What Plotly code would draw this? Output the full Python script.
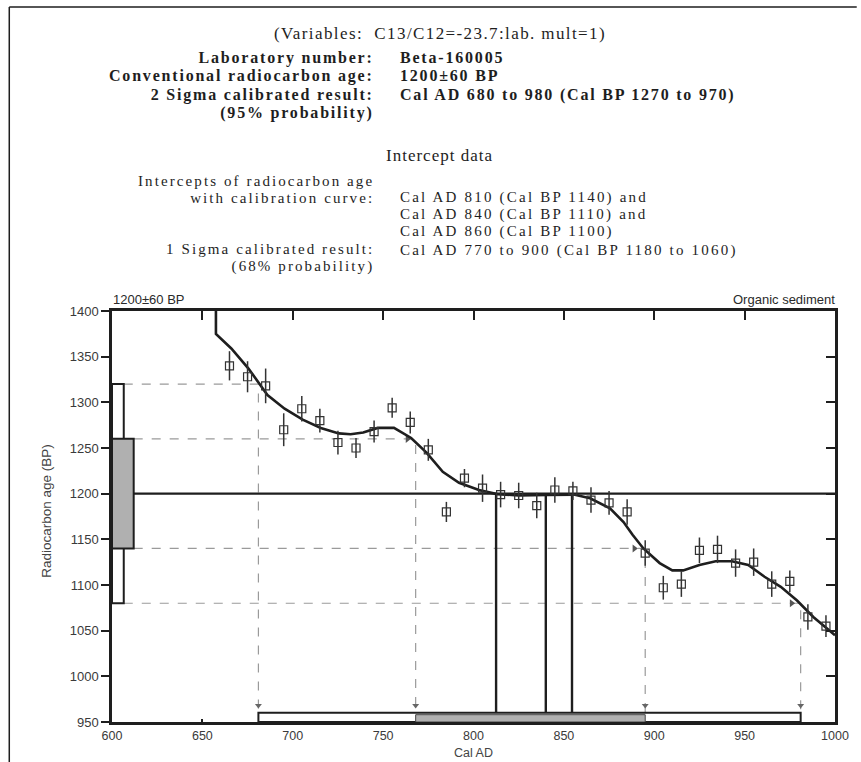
import plotly.graph_objects as go

# ---------------- data ----------------
point_x = [665, 675, 685, 695, 705, 715, 725, 735, 745, 755, 765, 775, 785, 795, 805, 815, 825,
           835, 845, 855, 865, 875, 885, 895, 905, 915, 925, 935, 945, 955, 965, 975, 985, 995]
point_y = [1340, 1328, 1318, 1270, 1293, 1280, 1256, 1250, 1268, 1294, 1278, 1248, 1180, 1217, 1206,
           1199, 1198, 1187, 1204, 1203, 1193, 1190, 1180, 1135, 1097, 1101, 1138, 1139, 1124, 1125,
           1101, 1104, 1065, 1055]
point_err = [16, 17, 19, 18, 14, 13, 13, 11, 12, 11, 12, 12, 11, 10, 15, 14, 14, 14, 14, 10,
             14, 13, 14, 14, 13, 14, 14, 15, 15, 15, 14, 12, 14, 12]

curve_x = [657.5, 657.5, 666, 675.5, 686, 695.5, 705.5, 715.5, 725.5, 732, 739, 747, 756, 765.5,
           774, 783, 792, 803, 813, 825, 841, 855.5, 864.5, 875.5, 883, 888, 894, 903, 910, 916,
           925, 934, 943, 952, 961, 970, 979, 988, 1000]
curve_y = [1400, 1375, 1359, 1337, 1308, 1293, 1281, 1272, 1266, 1265, 1267, 1272, 1272, 1261,
           1245, 1224, 1212, 1204, 1199.5, 1198, 1198.5, 1199, 1195, 1184, 1169, 1155, 1140, 1124,
           1116, 1116, 1122, 1126, 1126, 1122, 1109, 1098, 1083, 1065, 1045]

conv_age = 1200
conv_sigma = 60
two_sigma_cal = [681, 981]      # Cal AD limits of 2-sigma range
one_sigma_cal = [768, 895]      # Cal AD limits of 1-sigma range
intercepts = [812.5, 840, 854.5]

x_ticks = [600, 650, 700, 750, 800, 850, 900, 950, 1000]
y_ticks = [950, 1000, 1050, 1100, 1150, 1200, 1250, 1300, 1350, 1400]
x_range = [600, 1000]
y_range = [950, 1400]

title_line = "(Variables:  C13/C12=-23.7:lab. mult=1)"
section_line = "Intercept data"
bold_labels = ["Laboratory number:", "Conventional radiocarbon age:",
               "2 Sigma calibrated result:", "(95% probability)"]
bold_values = ["Beta-160005", "1200±60 BP", "Cal AD 680 to 980 (Cal BP 1270 to 970)"]
intercept_labels = ["Intercepts of radiocarbon age", "with calibration curve:"]
intercept_values = ["Cal AD 810 (Cal BP 1140) and", "Cal AD 840 (Cal BP 1110) and",
                    "Cal AD 860 (Cal BP 1100)"]
one_sigma_labels = ["1 Sigma calibrated result:", "(68% probability)"]
one_sigma_values = ["Cal AD 770 to 900 (Cal BP 1180 to 1060)"]

# ---------------- layout helpers ----------------
W, H = 861, 762
ML, MR, MT, MB = 112, 17, 311, 40
PW, PH = W - ML - MR, H - MT - MB


def px(x):
    return (x - ML) / PW


def py(y):
    return (H - MB - y) / PH


SERIF = "Liberation Serif, Times New Roman, serif"
SANS = "Liberation Sans, Arial, sans-serif"
INK = "#1e1e1e"
DASH = "#9a9a9a"
FILL = "#b0b0b0"

fig = go.Figure()

lo2, hi2 = conv_age - 2 * conv_sigma, conv_age + 2 * conv_sigma
lo1, hi1 = conv_age - conv_sigma, conv_age + conv_sigma
box2_w, box1_w = 6.5, 12
bar2_h, bar1_h = 10, 8

# dashed guide lines (horizontal then vertical)
guides = [
    (hi2, x_range[0] + box2_w, two_sigma_cal[0]),
    (hi1, x_range[0] + box1_w, one_sigma_cal[0]),
    (lo1, x_range[0] + box1_w, one_sigma_cal[1]),
    (lo2, x_range[0] + box2_w, two_sigma_cal[1]),
]
for yv, x0, x1 in guides:
    fig.add_trace(go.Scatter(x=[x0, x1, x1], y=[yv, yv, y_range[0] + bar2_h], mode="lines",
                             line=dict(color=DASH, width=1.2, dash="dash"),
                             hoverinfo="skip", showlegend=False))

# arrow heads at ends of horizontal guides
fig.add_trace(go.Scatter(x=[one_sigma_cal[0] - 4.5, one_sigma_cal[1] - 6, two_sigma_cal[1] - 5],
                         y=[hi1, lo1, lo2], mode="markers",
                         marker=dict(symbol="triangle-right", size=7, color="#555"),
                         hoverinfo="skip", showlegend=False))
# down triangles at bottoms of vertical guides
fig.add_trace(go.Scatter(x=[two_sigma_cal[0], one_sigma_cal[0], one_sigma_cal[1], two_sigma_cal[1]],
                         y=[y_range[0] + 18] * 4, mode="markers",
                         marker=dict(symbol="triangle-down", size=6, color="#666"),
                         hoverinfo="skip", showlegend=False))

# horizontal line at conventional age
fig.add_trace(go.Scatter(x=[x_range[0] + box1_w, x_range[1]], y=[conv_age, conv_age], mode="lines",
                         line=dict(color=INK, width=2.4), hoverinfo="skip", showlegend=False))

# intercept vertical lines
for xi in intercepts:
    fig.add_trace(go.Scatter(x=[xi, xi], y=[conv_age, y_range[0] + bar2_h], mode="lines",
                             line=dict(color=INK, width=2.4), hoverinfo="skip", showlegend=False))

# calibration curve
fig.add_trace(go.Scatter(x=curve_x, y=curve_y, mode="lines", line=dict(color=INK, width=2.6),
                         hoverinfo="skip", showlegend=False))

# data points with error bars
fig.add_trace(go.Scatter(x=point_x, y=point_y, mode="markers",
                         marker=dict(symbol="square-open", size=8, color="#333",
                                     line=dict(width=1.2, color="#333")),
                         error_y=dict(type="data", array=point_err, visible=True, width=0,
                                      thickness=1.5, color="#333"),
                         showlegend=False))

# invisible trace for secondary axes
fig.add_trace(go.Scatter(x=[x_range[0]], y=[y_range[0]], xaxis="x2", yaxis="y2", mode="markers",
                         marker=dict(opacity=0), hoverinfo="skip", showlegend=False))

shapes = []
# left probability boxes
shapes.append(dict(type="rect", xref="x", yref="y", x0=x_range[0], x1=x_range[0] + box2_w,
                   y0=lo2, y1=hi2, fillcolor="white", line=dict(color=INK, width=2), layer="above"))
shapes.append(dict(type="rect", xref="x", yref="y", x0=x_range[0], x1=x_range[0] + box1_w,
                   y0=lo1, y1=hi1, fillcolor=FILL, line=dict(color=INK, width=2), layer="above"))
# bottom calibrated range bars
shapes.append(dict(type="rect", xref="x", yref="y", x0=two_sigma_cal[0], x1=two_sigma_cal[1],
                   y0=y_range[0], y1=y_range[0] + bar2_h, fillcolor="white",
                   line=dict(color=INK, width=2), layer="above"))
shapes.append(dict(type="rect", xref="x", yref="y", x0=one_sigma_cal[0], x1=one_sigma_cal[1],
                   y0=y_range[0], y1=y_range[0] + bar1_h, fillcolor=FILL,
                   line=dict(color="#444", width=1), layer="above"))
# page frame
shapes.append(dict(type="line", xref="paper", yref="paper", x0=px(8), x1=px(8), y0=py(7), y1=py(H + 5),
                   line=dict(color=INK, width=1.5)))
shapes.append(dict(type="line", xref="paper", yref="paper", x0=px(8), x1=px(W + 5), y0=py(7), y1=py(7),
                   line=dict(color=INK, width=1.5)))


def block(lines, size, spacing, bold):
    """Multi-line text: base font sets line pitch, inner span sets glyph size/spacing."""
    w = "bold" if bold else "normal"
    st = "font-size:%.1fpx;letter-spacing:%.2fpx;font-weight:%s" % (size, spacing, w)
    return "<br>".join('<span style="%s">%s</span>' % (st, t) for t in lines)


annotations = []


def add_text(lines, x, y_first, pitch, anchor, size, spacing, bold):
    base = pitch / 1.3
    n = len(lines)
    yc = y_first + (n - 1) * pitch / 2.0
    annotations.append(dict(text=block(lines, size, spacing, bold), x=px(x), y=py(yc),
                            xref="paper", yref="paper", xanchor=anchor, yanchor="middle",
                            align=anchor, showarrow=False,
                            font=dict(family=SERIF, size=base, color=INK)))


add_text([title_line], 444, 33, 20, "center", 17, 1.4, False)
add_text(bold_labels, 379, 58, 18.3, "right", 16, 1.8, True)
add_text(bold_values, 402, 58, 18.3, "left", 16, 1.8, True)
add_text([section_line], 444, 155, 20, "center", 17, 1.0, False)
add_text(intercept_labels, 379, 181, 17, "right", 15, 2.1, False)
add_text(intercept_values, 402, 197, 17, "left", 15, 2.2, False)
add_text(one_sigma_labels, 379, 249, 17, "right", 15, 2.1, False)
add_text(one_sigma_values, 402, 250, 17, "left", 15, 2.2, False)

annotations.append(dict(text="1200±60 BP", x=px(111), y=py(299), xref="paper", yref="paper",
                        xanchor="left", yanchor="middle", showarrow=False,
                        font=dict(family=SANS, size=13, color="#2a2a2a")))
annotations.append(dict(text="Organic sediment", x=px(846), y=py(300), xref="paper", yref="paper",
                        xanchor="right", yanchor="middle", showarrow=False,
                        font=dict(family=SANS, size=13, color="#2a2a2a")))
annotations.append(dict(text="Radiocarbon age (BP)", x=px(45), y=py(511), xref="paper", yref="paper",
                        xanchor="center", yanchor="middle", textangle=-90, showarrow=False,
                        font=dict(family=SANS, size=13.5, color="#444")))
annotations.append(dict(text="Cal AD", x=px(478), y=py(752.5), xref="paper", yref="paper",
                        xanchor="center", yanchor="middle", showarrow=False,
                        font=dict(family=SANS, size=12.5, color="#444")))

tickfont = dict(family=SANS, size=13, color="#3a3a3a")
fig.update_layout(
    width=W, height=H,
    margin=dict(l=ML, r=MR, t=MT, b=MB, pad=0),
    paper_bgcolor="white", plot_bgcolor="white",
    showlegend=False,
    xaxis=dict(range=x_range, tickvals=x_ticks, ticks="inside", ticklen=3, tickwidth=2,
               tickcolor=INK, showline=True, linecolor=INK, linewidth=2.5, showgrid=False,
               zeroline=False, tickfont=dict(family=SANS, size=12.5, color="#3a3a3a"),
               ticklabelstandoff=0),
    xaxis2=dict(range=x_range, overlaying="x", side="top", tickvals=x_ticks[1:-1], ticks="inside",
                ticklen=9, tickwidth=2, tickcolor=INK, showline=True, linecolor=INK, linewidth=2.5,
                showgrid=False, zeroline=False, showticklabels=False),
    yaxis=dict(range=y_range, tickvals=y_ticks, ticks="outside", ticklen=8, tickwidth=2,
               tickcolor=INK, showline=True, linecolor=INK, linewidth=2.5, showgrid=False,
               zeroline=False, tickfont=tickfont),
    yaxis2=dict(range=y_range, overlaying="y", side="right", tickvals=y_ticks[1:-1], ticks="inside",
                ticklen=9, tickwidth=2, tickcolor=INK, showline=True, linecolor=INK, linewidth=2.5,
                showgrid=False, zeroline=False, showticklabels=False),
    shapes=shapes,
    annotations=annotations,
)

fig.write_html("out.html")
